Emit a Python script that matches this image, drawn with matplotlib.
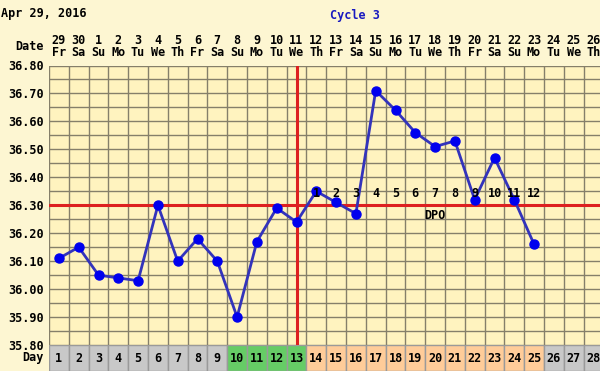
import numpy as np
import matplotlib.pyplot as plt
from matplotlib.patches import Rectangle

# --- Data ---
cycle_days = list(range(1, 29))
date_nums = ['29', '30', '1', '2', '3', '4', '5', '6', '7', '8', '9', '10', '11', '12',
             '13', '14', '15', '16', '17', '18', '19', '20', '21', '22', '23', '24', '25', '26']
weekdays = ['Fr', 'Sa', 'Su', 'Mo', 'Tu', 'We', 'Th'] * 4
temp_days = list(range(1, 26))
temps = [36.11, 36.15, 36.05, 36.04, 36.03, 36.30, 36.10, 36.18, 36.10, 35.90,
         36.17, 36.29, 36.24, 36.35, 36.31, 36.27, 36.71, 36.64, 36.56, 36.51,
         36.53, 36.32, 36.47, 36.32, 36.16]
dpo_days = list(range(14, 26))
dpo_labels = [str(i) for i in range(1, 13)]
cover_line = 36.30
ovulation_day = 13
fertile_days = [10, 11, 12, 13]
luteal_days = list(range(14, 26))
y_ticks = [35.80, 35.90, 36.00, 36.10, 36.20, 36.30, 36.40, 36.50, 36.60, 36.70, 36.80]

# --- Styling ---
W, H = 600, 375
bg_outer = '#FDF6D2'
bg_plot = '#FFF3BF'
grid_col = '#857F6A'
red = '#DD2020'
blue_line = '#3333BB'
blue_dot = '#0000EE'
font = 'DejaVu Sans Mono'
fs = 8.5

fig = plt.figure(figsize=(6, 3.75), dpi=100, facecolor=bg_outer)


def px_axes(left, top, right, bottom):
    return fig.add_axes([left / W, 1 - bottom / H, (right - left) / W, (bottom - top) / H])


col_w = 19.8
x_left = 49
x_hi = 0.5 + (W - x_left) / col_w

# --- Main chart ---
ax = px_axes(x_left, 65.5, W, 345)
ax.set_facecolor(bg_plot)
ax.set_xlim(0.5, x_hi)
ax.set_ylim(35.80, 36.80)
for xv in np.arange(0.5, 29, 1):
    ax.axvline(xv, color=grid_col, lw=1, zorder=1)
for yv in np.arange(35.80, 36.81, 0.05):
    ax.axhline(yv, color=grid_col, lw=1, zorder=1)
ax.axhline(cover_line, color=red, lw=2.2, zorder=2)
ax.axvline(ovulation_day, color=red, lw=2.2, zorder=2)
ax.plot(temp_days, temps, color=blue_line, lw=2, zorder=3)
ax.plot(temp_days, temps, 'o', color=blue_dot, ms=6.5, zorder=4)
for d, lab in zip(dpo_days, dpo_labels):
    ax.text(d, cover_line + 0.018, lab, ha='center', va='bottom', fontsize=fs,
            fontweight='bold', family=font, zorder=5)
ax.text(20, cover_line - 0.035, 'DPO', ha='center', va='center', fontsize=fs,
        fontweight='bold', family=font, zorder=5)
ax.set_xticks([])
ax.set_yticks(y_ticks)
ax.set_yticklabels([f'{v:.2f}' for v in y_ticks], fontsize=fs, fontweight='bold', family=font)
ax.tick_params(axis='y', length=0, pad=4)
for s in ax.spines.values():
    s.set_visible(False)

# --- Day row ---
ax2 = px_axes(x_left, 345, W, 371)
ax2.set_xlim(0.5, x_hi)
ax2.set_ylim(0, 1)
for d in cycle_days:
    if d in fertile_days:
        c = '#66CC66'
    elif d in luteal_days:
        c = '#FFCC99'
    else:
        c = '#C8C8C8'
    ax2.add_patch(Rectangle((d - 0.5, 0), 1, 1, facecolor=c, edgecolor='#9A9A9A', lw=1))
    ax2.text(d, 0.5, str(d), ha='center', va='center', fontsize=fs, fontweight='bold', family=font)
ax2.axis('off')

# --- Header texts ---
fig.text(1 / W, 1 - 13 / H, 'Apr 29, 2016', ha='left', va='center', fontsize=fs,
         fontweight='bold', family=font)
fig.text(355 / W, 1 - 15 / H, 'Cycle 3', ha='center', va='center', fontsize=fs,
         fontweight='bold', family=font, color='#1A1AC0')
fig.text(44 / W, 1 - 46 / H, 'Date', ha='right', va='center', fontsize=fs,
         fontweight='bold', family=font)
fig.text(44 / W, 1 - 358 / H, 'Day', ha='right', va='center', fontsize=fs,
         fontweight='bold', family=font)
for d, dn, wd in zip(cycle_days, date_nums, weekdays):
    xf = (x_left + (d - 0.5) * col_w) / W
    fig.text(xf, 1 - 40 / H, dn, ha='center', va='center', fontsize=fs,
             fontweight='bold', family=font)
    fig.text(xf, 1 - 53 / H, wd, ha='center', va='center', fontsize=fs,
             fontweight='bold', family=font)

# white strip at bottom
fig.patches.append(Rectangle((0, 0), 1, 4 / H, transform=fig.transFigure,
                             facecolor='white', edgecolor='none'))

plt.savefig('out.png', dpi=100, facecolor=bg_outer)
